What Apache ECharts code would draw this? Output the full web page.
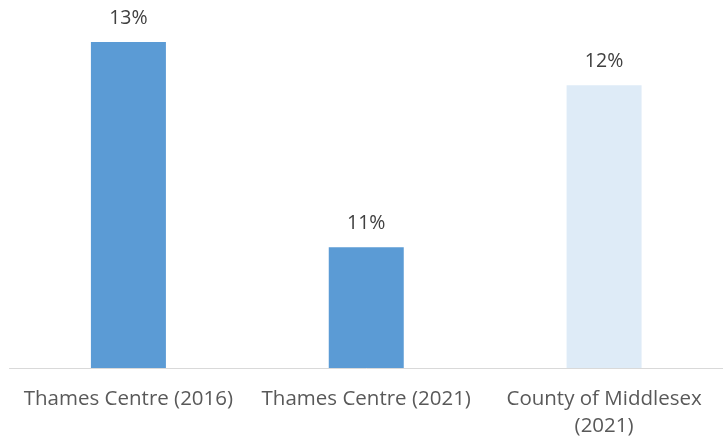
<!DOCTYPE html>
<html>
<head>
<meta charset="utf-8">
<script src="https://cdn.jsdelivr.net/npm/echarts@6/dist/echarts.min.js"></script>
<style>
  html, body { margin: 0; padding: 0; background: #fff; }
  #myChart { width: 723px; height: 441px; }
</style>
</head>
<body>
<div id="myChart"></div>
<script>
  // categories and values (percent)
  var categories = ['Thames Centre (2016)', 'Thames Centre (2021)', 'County of Middlesex\n(2021)']
  var values = [12.86, 11.06, 12.48]
  var barColors = ['#5B9BD5', '#5B9BD5', '#DEEBF7']

  var myChart = echarts.init(document.getElementById('myChart'))
  var option = {
    animation: false,
    grid: {
      left: 9.5,
      right: -3.5,
      top: 26,
      bottom: 73
    },
    xAxis: {
      type: 'category',
      data: categories,
      axisTick: { show: false },
      axisLine: { lineStyle: { color: '#d9d9d9', width: 1 } },
      axisLabel: {
        color: '#595959',
        fontFamily: 'Open Sans',
        fontSize: 20.5,
        lineHeight: 27,
        margin: 18,
        interval: 0
      }
    },
    yAxis: {
      type: 'value',
      min: 10,
      max: 13,
      show: false,
      splitLine: { show: false }
    },
    series: [
      {
        type: 'bar',
        barWidth: 75,
        data: values.map(function (v, i) {
          return { value: v, itemStyle: { color: barColors[i] } }
        }),
        label: {
          show: true,
          position: 'top',
          distance: 14,
          color: '#404040',
          fontFamily: 'Open Sans',
          fontSize: 19.5,
          formatter: function (p) {
            return Math.round(p.value) + '%'
          }
        }
      }
    ]
  }
  myChart.setOption(option)
</script>
</body>
</html>
